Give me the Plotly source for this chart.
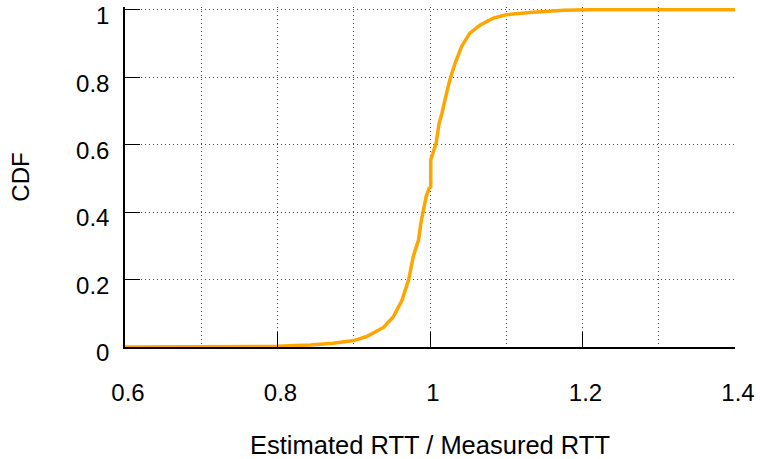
import plotly.graph_objects as go

ratio = [0.6, 0.70, 0.764, 0.80, 0.843, 0.873, 0.90, 0.917, 0.939, 0.952, 0.963, 0.972,
         0.978, 0.985, 0.988, 0.992, 0.995, 0.999, 1.001, 1.001, 1.004, 1.008, 1.012,
         1.0154, 1.0197, 1.026, 1.033, 1.0415, 1.052, 1.066, 1.083, 1.10, 1.131, 1.175,
         1.21, 1.3, 1.4]
cdf = [0.0, 0.0, 0.001, 0.002, 0.006, 0.011, 0.019, 0.031, 0.058, 0.09, 0.137, 0.199,
       0.268, 0.318, 0.367, 0.407, 0.446, 0.471, 0.474, 0.555, 0.575, 0.604, 0.664,
       0.69, 0.733, 0.792, 0.842, 0.891, 0.930, 0.955, 0.975, 0.985, 0.992, 0.998,
       1.0, 1.0, 1.0]

x_ticks = [0.6, 0.8, 1.0, 1.2, 1.4]
x_labels = ["0.6", "0.8", "1", "1.2", "1.4"]
y_ticks = [0, 0.2, 0.4, 0.6, 0.8, 1.0]
y_labels = ["0", "0.2", "0.4", "0.6", "0.8", "1"]

FONT = "Liberation Sans, Arial, Helvetica, sans-serif"
GRID = dict(gridcolor="#444444", gridwidth=1, griddash="1px,3px")

fig = go.Figure()
fig.add_trace(go.Scatter(x=ratio, y=cdf, mode="lines",
                         line=dict(color="#FFA500", width=3.5), showlegend=False))

fig.update_layout(
    width=760, height=459,
    margin=dict(l=125, r=25, t=7, b=112, autoexpand=False),
    paper_bgcolor="white", plot_bgcolor="white",
    font=dict(family=FONT, size=24, color="black"),
    xaxis=dict(
        range=[0.6, 1.4], tickvals=x_ticks, ticktext=x_labels,
        ticks="inside", ticklen=15, tickwidth=1, tickcolor="black",
        showline=True, linecolor="black", linewidth=1.5,
        showgrid=True, **GRID,
        minor=dict(tickvals=[0.7, 0.9, 1.1, 1.3], showgrid=True, ticks="",
                   gridcolor="#444444", gridwidth=1, griddash="1px,3px"),
        zeroline=False, ticklabelstandoff=23, ticklabelshift=3, automargin=False,
        title=dict(text="Estimated RTT / Measured RTT", standoff=42,
                   font=dict(size=25.5)),
    ),
    yaxis=dict(
        range=[0, 1.008], tickvals=y_ticks, ticktext=y_labels,
        ticks="inside", ticklen=15, tickwidth=1, tickcolor="black",
        showline=True, linecolor="black", linewidth=1.5,
        showgrid=True, **GRID,
        zeroline=False, ticklabelstandoff=9, ticklabelshift=6, automargin=False,
        title=dict(text="CDF", standoff=40, font=dict(size=24)),
    ),
)

fig.write_html("out.html")
